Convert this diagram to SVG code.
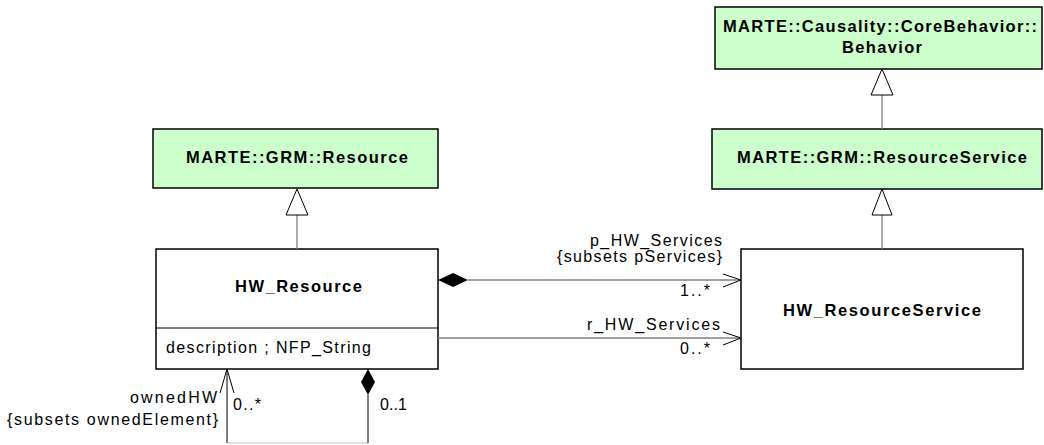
<svg xmlns="http://www.w3.org/2000/svg" width="1044" height="445" viewBox="0 0 1044 445">
<style>
text{font-family:"Liberation Sans",Arial,sans-serif;font-size:16px;fill:#000}
.b{font-weight:bold;font-size:16.5px}
.ext{fill:#ccffcc;stroke:#000;stroke-width:1.5}
.cls{fill:#fff;stroke:#000;stroke-width:1.5}
.ln{fill:none;stroke:#808080;stroke-width:1.3}
.sl{fill:none;stroke:#000;stroke-width:1}
.tri{fill:#fff;stroke:#000;stroke-width:1}
</style>
<rect width="1044" height="445" fill="#fff"/>
<g id="behavior">
<rect class="ext" x="715" y="7" width="327" height="62"/>
<text class="b" x="723" y="32" textLength="314" lengthAdjust="spacing">MARTE::Causality::CoreBehavior::</text>
<text class="b" x="842" y="53" textLength="80" lengthAdjust="spacing">Behavior</text>
</g>
<g id="resourceService">
<rect class="ext" x="712" y="129" width="330" height="60"/>
<text class="b" x="737" y="163" textLength="290" lengthAdjust="spacing">MARTE::GRM::ResourceService</text>
</g>
<g id="resource">
<rect class="ext" x="153" y="129" width="285" height="59"/>
<text class="b" x="186" y="163" textLength="222" lengthAdjust="spacing">MARTE::GRM::Resource</text>
</g>
<g id="hwResource">
<rect class="cls" x="156" y="249" width="282" height="120"/>
<line x1="156" y1="328" x2="438" y2="328" stroke="#000" stroke-width="1"/>
<text class="b" x="235" y="292" textLength="127" lengthAdjust="spacing">HW_Resource</text>
<text x="166" y="353" textLength="205" lengthAdjust="spacing">description ; NFP_String</text>
</g>
<g id="hwResourceService">
<rect class="cls" x="741" y="249" width="282" height="120"/>
<text class="b" x="783" y="316" textLength="198" lengthAdjust="spacing">HW_ResourceService</text>
</g>
<g id="connectors">
<line class="ln" x1="297" y1="249" x2="297" y2="215"/>
<polygon class="tri" points="297,189 286,215 308,215"/>
<line class="ln" x1="882" y1="249" x2="882" y2="215"/>
<polygon class="tri" points="882,189 872,215 892,215"/>
<line class="ln" x1="882" y1="129" x2="882" y2="95"/>
<polygon class="tri" points="882,69 871,95 893,95"/>
<line class="ln" x1="468" y1="280" x2="741" y2="280"/>
<polygon points="438,280 453,273 468,280 453,287" fill="#000"/>
<polyline class="sl" points="723,274 741,280 723,287" stroke="#404040"/>
<text x="590" y="246" textLength="132" lengthAdjust="spacing">p_HW_Services</text>
<text x="557" y="262" textLength="165" lengthAdjust="spacing">{subsets pServices}</text>
<text x="680" y="296" textLength="30" lengthAdjust="spacing">1..*</text>
<line class="ln" x1="438" y1="338" x2="741" y2="338"/>
<polyline class="sl" points="723,332 741,338 723,345" stroke="#404040"/>
<text x="587" y="330" textLength="133" lengthAdjust="spacing">r_HW_Services</text>
<text x="680" y="354" textLength="30" lengthAdjust="spacing">0..*</text>
<polyline class="sl" points="227,369 227,443"/>
<line x1="227" y1="443" x2="368" y2="443" stroke="#c0c0c0" stroke-width="1"/>
<polyline class="sl" points="368,443 368,395"/>
<polygon points="368,369 375,382 368,395 361,382" fill="#000"/>
<polyline class="sl" points="220,393 227,369 234,393"/>
<text x="130" y="403" textLength="87" lengthAdjust="spacing">ownedHW</text>
<text x="7" y="425" textLength="211" lengthAdjust="spacing">{subsets ownedElement}</text>
<text x="233" y="410" textLength="28" lengthAdjust="spacing">0..*</text>
<text x="380" y="410" textLength="27" lengthAdjust="spacing">0..1</text>
</g>
</svg>
